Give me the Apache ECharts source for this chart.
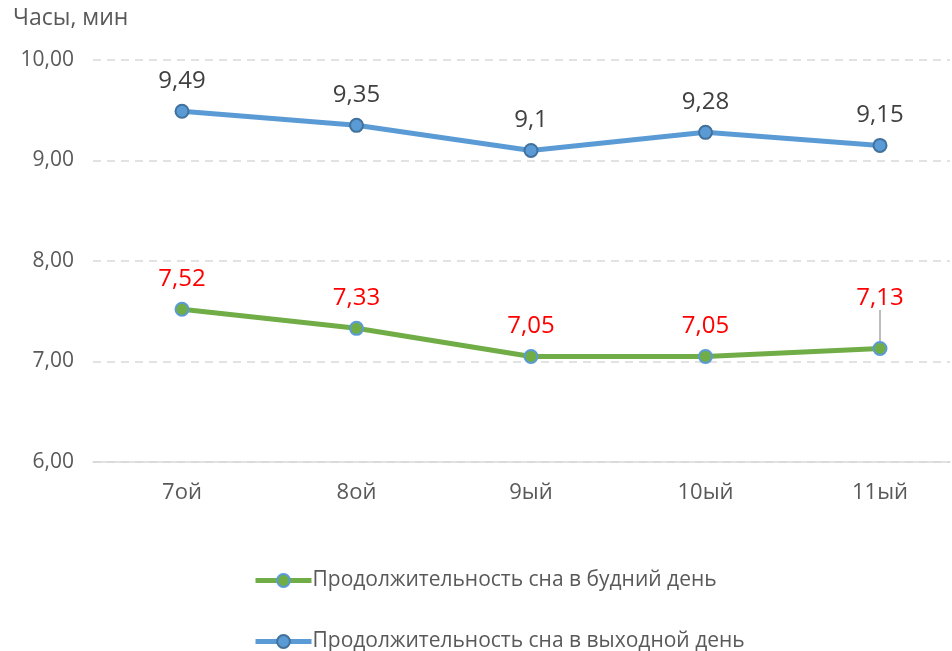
<!DOCTYPE html>
<html>
<head>
<meta charset="utf-8">
<script src="https://cdn.jsdelivr.net/npm/echarts@6/dist/echarts.min.js"></script>
<style>
  html, body { margin: 0; padding: 0; background: #fff; }
  #chart { width: 952px; height: 651px; }
</style>
</head>
<body>
<div id="chart"></div>
<script>
// данные
var categories = ["7ой", "8ой", "9ый", "10ый", "11ый"];
var weekday = [7.52, 7.33, 7.05, 7.05, 7.13];
var weekend = [9.49, 9.35, 9.1, 9.28, 9.15];
var yTicks = ["6,00", "7,00", "8,00", "9,00", "10,00"];
var seriesNames = ["Продолжительность сна в будний день", "Продолжительность сна в выходной день"];

var FONT = "Open Sans";
var GREY = "#595959";
var chart = echarts.init(document.getElementById("chart"));

function comma(v) {
  return String(v).replace(".", ",");
}

// у последней точки подпись отодвинута и есть выноска
var weekdayData = weekday.map(function (v, i) {
  return i === 4 ? { value: v, labelLine: { show: true } } : v;
});

var legendText = { fontFamily: FONT, fontSize: 21, color: GREY, padding: [0, 0, 0, -4] };

chart.setOption({
  animation: false,
  textStyle: { fontFamily: FONT },
  title: {
    text: "Часы, мин",
    left: 8,
    top: 2,
    textStyle: { fontFamily: FONT, fontSize: 23, fontWeight: "normal", color: GREY }
  },
  // grid 0 - сетка и ось Y, grid 1 - сами точки (Excel-поля по краям)
  grid: [
    { left: 93, right: 2, top: 60, height: 402 },
    { left: 182, right: 72, top: 60, height: 402 }
  ],
  legend: [
    {
      left: 248,
      top: 565,
      itemWidth: 56,
      itemHeight: 16,
      data: [seriesNames[0]],
      lineStyle: { width: 5 },
      textStyle: legendText
    },
    {
      left: 248,
      top: 626,
      itemWidth: 56,
      itemHeight: 16,
      data: [seriesNames[1]],
      lineStyle: { width: 5 },
      textStyle: legendText
    }
  ],
  xAxis: [
    {
      gridIndex: 0,
      type: "category",
      data: categories,
      axisTick: { show: false },
      axisLabel: { show: false },
      axisLine: { lineStyle: { color: "#d9d9d9", width: 1.5 } }
    },
    {
      gridIndex: 1,
      type: "category",
      data: categories,
      boundaryGap: false,
      axisTick: { show: false },
      axisLine: { show: false },
      axisLabel: { fontSize: 22, color: GREY, margin: 20 }
    }
  ],
  yAxis: [
    {
      gridIndex: 0,
      type: "value",
      min: 6,
      max: 10,
      interval: 1,
      axisLine: { show: false },
      axisTick: { show: false },
      splitLine: { lineStyle: { color: "#d9d9d9", type: [8, 6], width: 1.5 } },
      axisLabel: {
        fontSize: 21,
        color: GREY,
        margin: 19,
        formatter: function (v) { return yTicks[Math.round(v - 6)]; }
      }
    },
    {
      gridIndex: 1,
      type: "value",
      min: 6,
      max: 10,
      interval: 1,
      show: false
    }
  ],
  series: [
    {
      name: seriesNames[0],
      type: "line",
      xAxisIndex: 1,
      yAxisIndex: 1,
      data: weekdayData,
      symbol: "circle",
      symbolSize: 13,
      lineStyle: { color: "#70ad47", width: 5 },
      itemStyle: { color: "#70ad47", borderColor: "#5b9bd5", borderWidth: 2 },
      label: {
        show: true,
        position: "top",
        distance: 11,
        fontSize: 24,
        color: "#ff0000",
        formatter: function (p) { return comma(p.value); }
      },
      labelLine: { show: false, lineStyle: { color: "#a6a6a6", width: 1.5 } },
      labelLayout: function (p) {
        if (p.dataIndex === 4) return { dy: -20 };
        return {};
      },
      z: 3
    },
    {
      name: seriesNames[1],
      type: "line",
      xAxisIndex: 1,
      yAxisIndex: 1,
      data: weekend,
      symbol: "circle",
      symbolSize: 13,
      lineStyle: { color: "#5b9bd5", width: 5 },
      itemStyle: { color: "#5b9bd5", borderColor: "#41719c", borderWidth: 2 },
      label: {
        show: true,
        position: "top",
        distance: 11,
        fontSize: 24,
        color: "#404040",
        formatter: function (p) { return comma(p.value); }
      },
      z: 3
    }
  ]
});
</script>
</body>
</html>
